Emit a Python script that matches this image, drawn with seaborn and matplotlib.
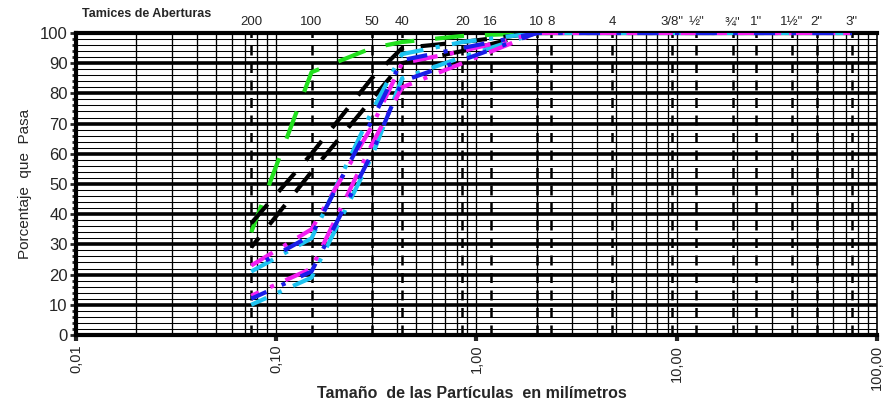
import matplotlib
matplotlib.use("Agg")
import matplotlib.pyplot as plt
import seaborn as sns
import numpy as np
import pandas as pd

sns.set_theme(style="white")
plt.rcParams['font.family'] = ['Liberation Sans', 'DejaVu Sans']

# Sieve openings (mm) and labels
sieve_mm = [0.075, 0.15, 0.3, 0.425, 0.85, 1.18, 2.0, 2.36, 4.75, 9.5, 12.5, 19.0, 25.0, 37.5, 50.0, 75.0]
sieve_labels = ["200", "100", "50", "40", "20", "16", "10", "8", "4", '3/8"', '½"', '¾"', '1"', '1½"', '2"', '3"']

# Particle sizes at which the curves were measured (mm)
size_mm = [0.075, 0.15, 0.3, 0.425, 0.85, 2.0, 4.75, 9.5, 19.0, 25.0, 37.5, 50.0, 75.0]

green   = [34, 87, 95, 97, 99, 100, 100, 100, 100, 100, 100, 100, 100]
black_a = [37, 60, 85, 95, 97, 100, 100, 100, 100, 100, 100, 100, 100]
black_b = [29, 54, 78, 90, 94, 100, 100, 100, 100, 100, 100, 100, 100]
magenta_a = [23, 35, 69, 90, 94, 100, 100, 100, 100, 100, 100, 100, 100]
magenta_b = [13, 22, 63, 82, 90, 100, 100, 100, 100, 100, 100, 100, 100]
blue_a  = [22, 33, 71, 91, 95, 100, 100, 100, 100, 100, 100, 100, 100]
blue_b  = [12, 21, 60, 84, 91, 100, 100, 100, 100, 100, 100, 100, 100]
cyan_a  = [21, 32, 74, 93, 97, 100, 100, 100, 100, 100, 100, 100, 100]
cyan_b  = [10, 19, 59, 85, 92, 100, 100, 100, 100, 100, 100, 100, 100]

series = [
    (green, "#22e01e", (0, (7, 5))),
    (black_a, "#000000", (0, (6, 4))),
    (black_b, "#000000", (3, (6, 4))),
    (cyan_a, "#1ec3f0", (0, (6, 3, 1, 3))),
    (cyan_b, "#1ec3f0", (2, (6, 3, 1, 3))),
    (magenta_a, "#f21ef0", (0, (6, 3, 1, 3))),
    (magenta_b, "#f21ef0", (4, (6, 3, 1, 3))),
    (blue_a, "#1a1ee8", (5, (5, 4, 1, 4))),
    (blue_b, "#1a1ee8", (1, (5, 4, 1, 4))),
]

fig = plt.figure(figsize=(8.84, 4.07), dpi=100)
ax = fig.add_axes([0.086, 0.177, 0.906, 0.742])
ax.set_xscale("log")
ax.set_xlim(0.01, 100)
ax.set_ylim(0, 100)

# horizontal grid
for v in range(0, 101, 2):
    thick = (v % 10 == 0)
    ax.axhline(v, color="black", lw=2.6 if thick else 0.75, zorder=1)

# vertical grid (log minor)
for dec in [0.01, 0.1, 1, 10]:
    for m in range(1, 10):
        x = dec * m
        if 0.01 < x < 100:
            ax.axvline(x, color="black", lw=0.95, zorder=1)

# sieve dashed lines
for s in sieve_mm:
    ax.axvline(s, color="black", lw=1.8, ls=(0, (4, 3)), zorder=2)

# curves
for vals, col, ls in series:
    df = pd.DataFrame({"size": size_mm, "pct": vals})
    sns.lineplot(data=df, x="size", y="pct", color=col, lw=3.0, linestyle=ls,
                 ax=ax, zorder=5, sort=True, estimator=None)

# frame
for side in ["top", "bottom", "left"]:
    ax.spines[side].set_linewidth(3)
    ax.spines[side].set_color("black")
ax.spines["right"].set_linewidth(1.2)
ax.spines["right"].set_color("black")

ax.set_yticks(range(0, 101, 10))
ax.set_yticks(range(0, 101, 2), minor=True)
ax.tick_params(axis="y", which="major", length=4, width=2, labelsize=12, pad=2, left=True)
ax.tick_params(axis="y", which="minor", length=3, width=2, left=True)

ax.set_xticks([0.01, 0.1, 1, 10, 100])
ax.set_xticklabels(["0,01", "0,10", "1,00", "10,00", "100,00"], rotation=90, fontsize=10.5)
ax.xaxis.set_minor_locator(matplotlib.ticker.NullLocator())
ax.tick_params(axis="x", which="major", length=4, width=3, bottom=True, pad=3)

ax.set_xlabel("")
ax.set_ylabel("Porcentaje  que  Pasa", fontsize=11, labelpad=6)
fig.text(472 / 884, 1 - 393 / 407, "Tamaño  de las Partículas  en milímetros", fontsize=11.5,
         fontweight="bold", ha="center", va="center")

# top sieve labels
for s, lab in zip(sieve_mm, sieve_labels):
    ax.text(s, 101.5, lab, ha="center", va="bottom", fontsize=9.5)
fig.text(82 / 884, 1 - 14 / 407, "Tamices de Aberturas", fontsize=9, fontweight="bold", va="center", ha="left")

fig.savefig("out.png", dpi=100)
